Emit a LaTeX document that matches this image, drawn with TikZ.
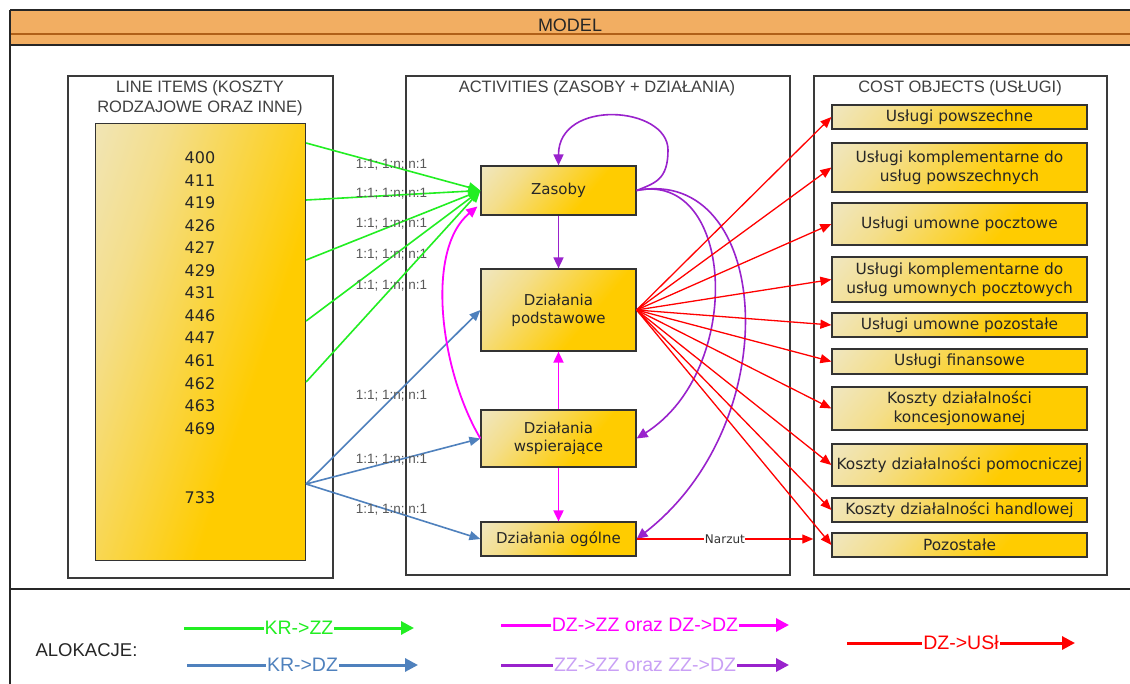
\documentclass[tikz,border=0pt]{standalone}
\usepackage{fontspec}
\setmainfont{Liberation Sans}
\newfontfamily\tah{DejaVu Sans}
\usetikzlibrary{arrows.meta,calc}
\definecolor{gold}{HTML}{FFCC00}
\definecolor{pale}{HTML}{ECEEF0}
\definecolor{pale2}{HTML}{F4DE8A}
\definecolor{hdr}{HTML}{F2AE62}
\definecolor{hdrline}{HTML}{B06018}
\definecolor{cgreen}{HTML}{22EE22}
\definecolor{cblue}{HTML}{4F81BD}
\definecolor{cmag}{HTML}{FF00FF}
\definecolor{cpur}{HTML}{9922CC}
\definecolor{cpurl}{HTML}{C9A0F5}
\definecolor{cred}{HTML}{FF0000}
\definecolor{frame}{HTML}{3A3A3A}
\pgfdeclareverticalshading{goldsh}{100bp}{color(0bp)=(gold); color(38bp)=(gold); color(68bp)=(pale2); color(100bp)=(pale)}
\tikzset{
  gbox/.style={draw=black!80, line width=1.2pt, shading=goldsh, shading angle=50,
    font=\tah\fontsize{15}{18}\selectfont, align=center, inner sep=0pt, text=black!85},
  panel/.style={draw=frame, line width=1.5pt},
  ttl/.style={font=\fontsize{16.5}{20}\selectfont, text=black!75, align=center, inner sep=0pt},
  lbl/.style={font=\fontsize{13.5}{15}\selectfont, text=black!65, inner sep=0pt},
  num/.style={font=\tah\fontsize{16}{18}\selectfont, text=black!85, inner sep=0pt},
  garr/.style={draw=cgreen, line width=1.6pt, -{Triangle[length=12pt,width=10pt]}},
  barr/.style={draw=cblue, line width=1.6pt, -{Triangle[length=11pt,width=9pt]}},
  marr/.style={draw=cmag, line width=1.8pt, -{Triangle[length=11pt,width=10pt]}},
  parr/.style={draw=cpur, line width=1.6pt, -{Triangle[length=11pt,width=10pt]}},
  rarr/.style={draw=cred, line width=1.3pt, -{Triangle[length=11pt,width=9pt]}},
  legarr/.style={line width=3pt, -{Triangle[length=13pt,width=13pt]}},
  legtxt/.style={font=\fontsize{19.5}{21}\selectfont, fill=white, inner sep=1pt},
}
\begin{document}
\begin{tikzpicture}[x=1pt,y=-1pt]
\useasboundingbox (0,0) rectangle (1130,683);
\fill[white] (0,0) rectangle (1130,683);
% outer frame and header
\fill[hdr] (10,10) rectangle (1140,45);
\draw[hdrline, line width=2.2pt] (10,34) -- (1140,34);
\draw[black!85, line width=2pt] (10,10) -- (1140,10);
\draw[black!85, line width=2pt] (10,45) -- (1140,45);
\draw[black!85, line width=2.5pt] (10,10) -- (10,690);
\draw[black!85, line width=2.5pt] (10,589) -- (1140,589);
\node[font=\fontsize{18}{20}\selectfont, text=black!85, inner sep=0pt] (model) at (570,25) {MODEL};

% panels
\node[panel, minimum width=265pt, minimum height=502pt, inner sep=0pt] (lpanel) at (200.5,327) {};
\node[panel, minimum width=384pt, minimum height=499pt, inner sep=0pt] (mpanel) at (598,325.5) {};
\node[panel, minimum width=293pt, minimum height=499pt, inner sep=0pt] (rpanel) at (960.5,325.5) {};
\node[ttl] (lttl) at (200,98) {LINE ITEMS (KOSZTY\\RODZAJOWE ORAZ INNE)};
\node[ttl] (mttl) at (597,88) {ACTIVITIES (ZASOBY + DZIAŁANIA)};
\node[ttl] (rttl) at (960,88) {COST OBJECTS (USŁUGI)};

% line items
\node[gbox, shading angle=72, minimum width=210pt, minimum height=437pt] (items) at (200.5,342) {};
\foreach \n/\y [count=\i] in {400/158,411/181,419/203,426/226,427/248,429/271,431/293,446/316,447/338,461/361,462/384,463/406,469/429,733/498}
  \node[num] (num\i) at (200,\y) {\n};

% activities
\node[gbox, minimum width=155pt, minimum height=49pt] (zasoby) at (558.5,190.5) {Zasoby};
\node[gbox, minimum width=155pt, minimum height=82pt] (podst) at (558.5,310) {Działania\\podstawowe};
\node[gbox, minimum width=155pt, minimum height=57pt] (wsp) at (558.5,438.5) {Działania\\wspierające};
\node[gbox, minimum width=155pt, minimum height=34pt] (ogolne) at (558.5,539) {Działania ogólne};

% cost objects
\foreach \t/\y/\h [count=\i] in {
  {Usługi powszechne}/117/24,
  {Usługi komplementarne do\\usług powszechnych}/167.5/49,
  {Usługi umowne pocztowe}/224/42,
  {Usługi komplementarne do\\usług umownych pocztowych}/279.5/45,
  {Usługi umowne pozostałe}/325/24,
  {Usługi finansowe}/361.5/25,
  {Koszty działalności\\koncesjonowanej}/408.5/43,
  {Koszty działalności pomocniczej}/465/42,
  {Koszty działalności handlowej}/510/24,
  {Pozostałe}/545/24}
  \node[gbox, font=\tah\fontsize{15.4}{18.5}\selectfont, minimum width=255pt, minimum height=\h pt] (c\i) at (959.5,\y) {\t};

% green allocations
\foreach \y in {143,200,260,321,382}
  \draw[garr] (items.east |- 0,\y) -- node[lbl, pos=0.49, yshift=2pt] {1:1; 1:n; n:1} (zasoby.west);
% blue allocations
\draw[barr] (items.east |- 0,484) -- node[lbl, pos=0.49, yshift=3pt] {1:1; 1:n; n:1} (podst.west);
\draw[barr] (items.east |- 0,484) -- node[lbl, pos=0.49, yshift=2pt] {1:1; 1:n; n:1} (wsp.west);
\draw[barr] (items.east |- 0,484) -- node[lbl, pos=0.49, yshift=1pt] {1:1; 1:n; n:1} (ogolne.west);

% magenta
\draw[marr] (wsp.north) -- (podst.south);
\draw[marr] (wsp.south) -- (ogolne.north);
\draw[marr] (wsp.west) .. controls (440,370) and (425,250) .. ($(zasoby.west)+(-3,16)$);

% purple
\draw[parr] (zasoby.south) -- (podst.north);
\draw[parr] (zasoby.east) .. controls (655,183) and (668,180) .. (668,150)
  .. controls (668,106) and (558.5,98) .. (zasoby.north);
\draw[parr] (zasoby.east) .. controls (735,170) and (745,370) .. (wsp.east);
\draw[parr] (zasoby.east) .. controls (770,165) and (790,420) .. (ogolne.east);

% red
\foreach \i in {1,...,10}
  \draw[rarr] (podst.east) -- (c\i.west);
\draw[rarr] (ogolne.east) -- node[font=\tah\fontsize{12}{13}\selectfont, fill=white, inner sep=0.5pt, text=black!80] {Narzut} (ogolne.east -| rpanel.west);

% legend
\node[font=\fontsize{18.5}{20}\selectfont, text=black!85, inner sep=0pt] (alok) at (86.5,650) {ALOKACJE:};
\coordinate (lg1) at (184,628); \coordinate (lg2) at (414,628);
\coordinate (lb1) at (187,665); \coordinate (lb2) at (418,665);
\coordinate (lm1) at (501,625); \coordinate (lm2) at (789,625);
\coordinate (lp1) at (501,665); \coordinate (lp2) at (789,665);
\coordinate (lr1) at (847,643); \coordinate (lr2) at (1075,643);
\draw[legarr, cgreen] (lg1) -- node[legtxt, text=cgreen] {KR->ZZ} (lg2);
\draw[legarr, cblue] (lb1) -- node[legtxt, text=cblue] {KR->DZ} (lb2);
\draw[legarr, cmag] (lm1) -- node[legtxt, text=cmag] {DZ->ZZ oraz DZ->DZ} (lm2);
\draw[legarr, cpur] (lp1) -- node[legtxt, text=cpurl] {ZZ->ZZ oraz ZZ->DZ} (lp2);
\draw[legarr, cred] (lr1) -- node[legtxt, text=cred] {DZ->USł} (lr2);
\end{tikzpicture}
\end{document}
